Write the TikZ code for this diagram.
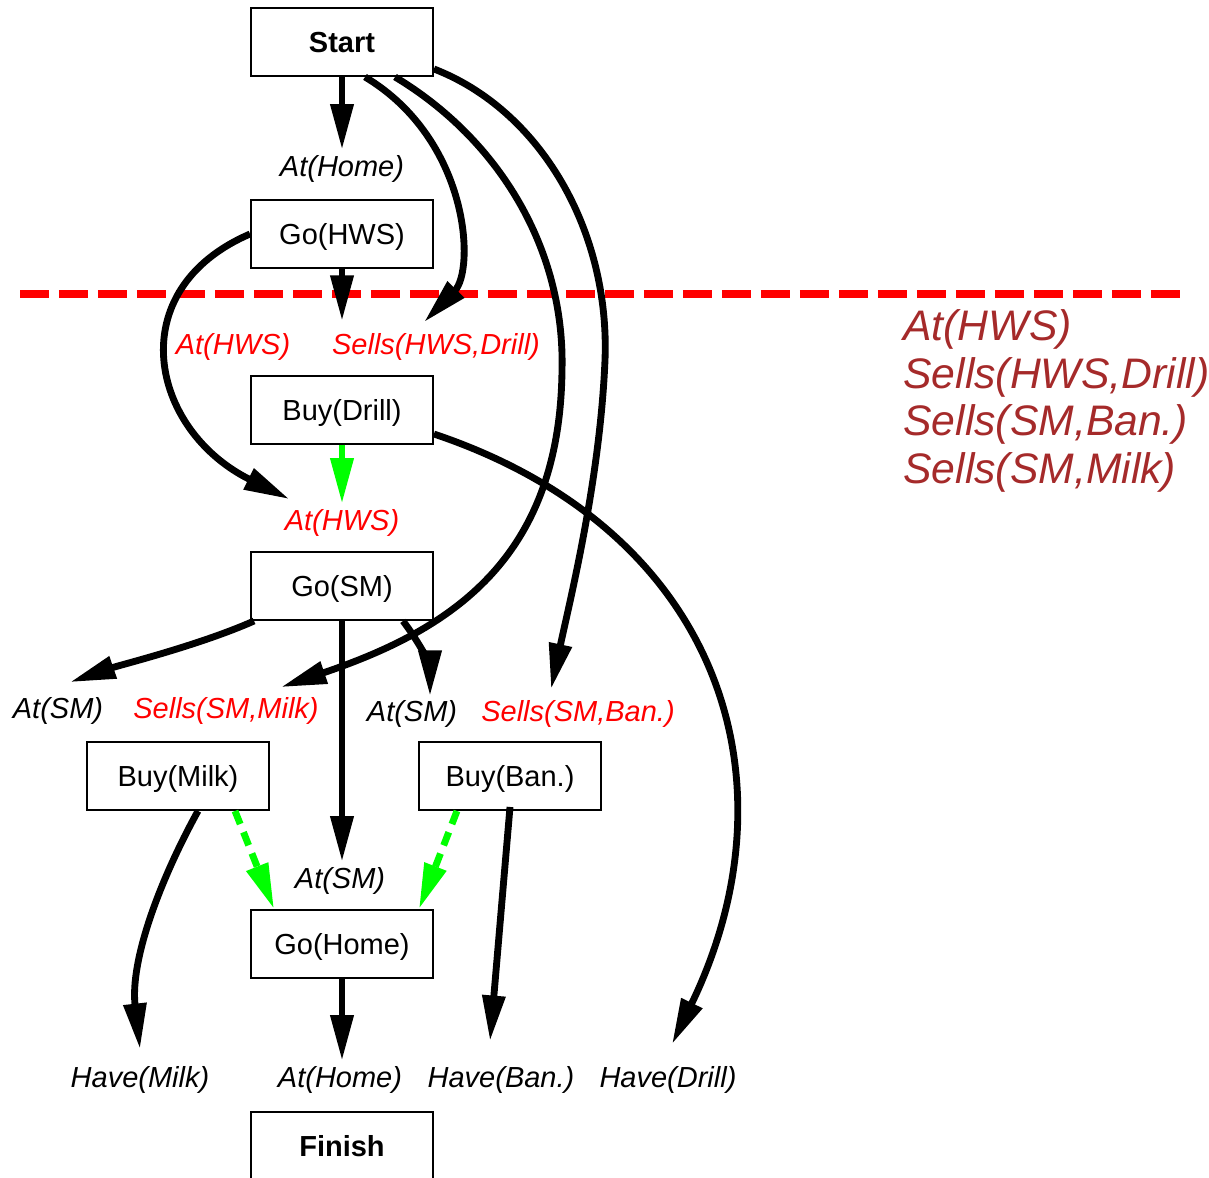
\documentclass[tikz,border=0pt]{standalone}
\usepackage{fontspec}
\setmainfont{Liberation Sans}
\usetikzlibrary{arrows.meta,calc}
\definecolor{cutred}{HTML}{FF0000}
\definecolor{ordgreen}{HTML}{00FF00}
\definecolor{agbrown}{HTML}{A52A2A}
\tikzset{
  act/.style={draw, line width=1.1pt, minimum width=3.64cm, minimum height=1.36cm, inner sep=0pt,
    text height=11.8pt, text depth=0pt, font=\fontsize{16.5}{20}\selectfont},
  actb/.style={act, font=\fontsize{16.5}{20}\selectfont\bfseries},
  cond/.style={inner sep=0pt, font=\fontsize{16.5}{20}\selectfont\itshape},
  open/.style={cond, text=cutred},
  link/.style={line width=3.9pt, -{Triangle[length=26pt,width=12.5pt]}},
  order/.style={draw=ordgreen, line width=3.9pt, dash pattern=on 8pt off 5pt, -{Triangle[length=26pt,width=12.5pt]}},
  cut/.style={draw=cutred, line width=4.4pt, dash pattern=on 0.58cm off 0.2cm},
  agenda/.style={inner sep=0pt, align=left, text=agbrown, font=\fontsize{24.3}{27.2}\selectfont\itshape}
}

\begin{document}
\begin{tikzpicture}[x=0.02cm, y=0.02cm]
  \useasboundingbox (0,0) rectangle (1209,-1177);

  % steps of the plan
  \node[actb] (start)    at (342,-42)   {Start};
  \node[act]  (gohws)    at (342,-234)  {Go(HWS)};
  \node[act]  (buydrill) at (342,-410)  {Buy(Drill)};
  \node[act]  (gosm)     at (342,-586)  {Go(SM)};
  \node[act]  (buymilk)  at (178,-776)  {Buy(Milk)};
  \node[act]  (buyban)   at (510,-776)  {Buy(Ban.)};
  \node[act]  (gohome)   at (342,-944)  {Go(Home)};
  \node[actb] (finish)   at (342,-1146) {Finish};

  % preconditions
  \node[cond] (athome)    at (342,-169)  {At(Home)};
  \node[open] (athws)     at (233,-347)  {At(HWS)};
  \node[open] (sellshws)  at (436,-347)  {Sells(HWS,Drill)};
  \node[open] (athwsb)    at (342,-523)  {At(HWS)};
  \node[cond] (atsma)     at (58,-711)   {At(SM)};
  \node[open] (sellsmilk) at (226,-711)  {Sells(SM,Milk)};
  \node[cond] (atsmb)     at (412,-714)  {At(SM)};
  \node[open] (sellsban)  at (578,-714)  {Sells(SM,Ban.)};
  \node[cond] (atsmc)     at (340,-881)  {At(SM)};
  \node[cond] (havemilk)  at (140,-1080) {Have(Milk)};
  \node[cond] (athomeb)   at (340,-1080) {At(Home)};
  \node[cond] (haveban)   at (501,-1080) {Have(Ban.)};
  \node[cond] (havedrill) at (668,-1080) {Have(Drill)};

  \node[agenda, anchor=north west] (agenda) at (903,-309)
    {At(HWS)\\Sells(HWS,Drill)\\Sells(SM,Ban.)\\Sells(SM,Milk)};

  \coordinate (cutL) at (20,-294);
  \coordinate (cutR) at (1187,-294);
  \draw[cut] (cutL) -- (cutR);

  % causal links
  \draw[link, shorten >=3pt] (start.south) -- (start.south |- athome.north);
  \draw[link] ($(start.south)+(23,0)$) .. controls (470,-140) and (475,-270) .. ($(sellshws.north)+(-12,11)$);
  \draw[link] ($(start.south)+(53,0)$) .. controls (500,-140) and (565,-250) .. (562,-370)
    .. controls (560,-560) and (450,-630) .. ($(sellsmilk.north east)+(-38,10)$);
  \draw[link] ($(start.south east)+(0,8)$) .. controls (540,-110) and (610,-230) .. (605,-360)
    .. controls (600,-480) and (570,-600) .. ($(sellsban.north)+(-27,11)$);
  \draw[link] (gohws.south) -- ($(gohws.south |- sellshws.north)+(0,12)$);
  \draw[link] (gohws.west) .. controls (120,-290) and (150,-430) .. ($(athwsb.north west)+(5,10)$);
  \draw[link] (buydrill.east) ++(0,-24) .. controls (720,-530) and (800,-780) .. ($(havedrill.north)+(4,22)$);
  \draw[link] ($(gosm.south west)+(4,0)$) .. controls (200,-645) and (120,-665) .. ($(atsma.north)+(12,15)$);
  \draw[link, shorten >=3pt] (gosm.south) -- (gosm.south |- atsmc.north);
  \draw[link] ($(gosm.south)+(61,0)$) .. controls (425,-650) and (430,-670) .. ($(atsmb.north)+(18,4)$);
  \draw[link] ($(buymilk.south)+(20,0)$) .. controls (160,-880) and (130,-960) .. ($(havemilk.north)+(0,17)$);
  \draw[link] ($(buyban.south)+(0,4)$) -- ($(haveban.north)+(-11,25)$);
  \draw[link, shorten >=3pt] (gohome.south) -- (gohome.south |- athomeb.north);

  % ordering constraints
  \draw[order, shorten >=3pt] (buydrill.south) -- (buydrill.south |- athwsb.north);
  \draw[order] ($(buymilk.south)+(57,0)$) -- ($(gohome.north west)+(24,0)$);
  \draw[order] ($(buyban.south)+(-53,0)$) -- ($(gohome.north east)+(-15,0)$);
\end{tikzpicture}
\end{document}
